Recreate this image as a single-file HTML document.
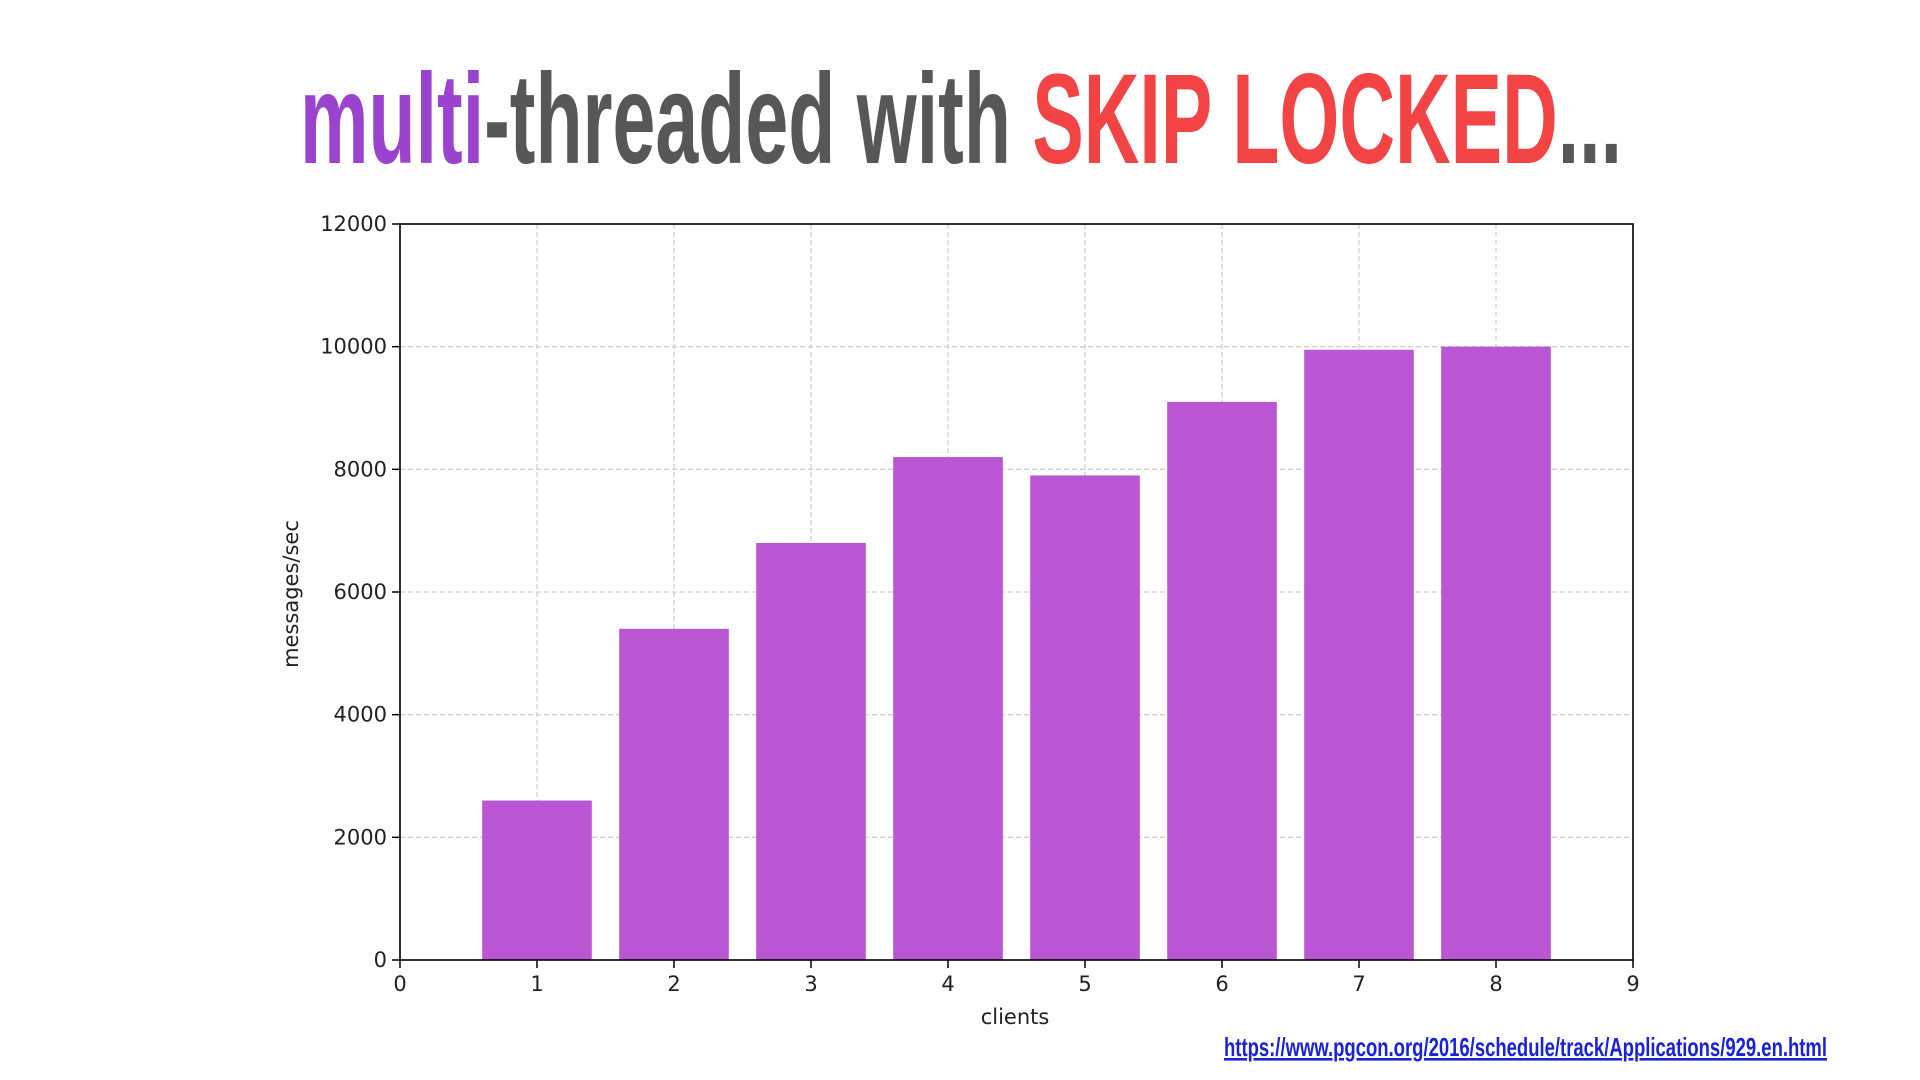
<!DOCTYPE html>
<html><head><meta charset="utf-8"><style>
html,body{margin:0;padding:0;background:#fff;width:1920px;height:1080px;overflow:hidden}
svg{position:absolute;left:0;top:0}
</style></head><body>
<svg id="s" width="1920" height="1080" xmlns="http://www.w3.org/2000/svg" font-family="DejaVu Sans, sans-serif">
<text x="300" y="163" font-family="Liberation Sans, sans-serif" font-weight="bold" font-size="128" textLength="1322" lengthAdjust="spacingAndGlyphs"><tspan fill="#9b42cf">multi</tspan><tspan fill="#575757">-threaded with </tspan><tspan fill="#f24444">SKIP LOCKED</tspan><tspan fill="#575757">...</tspan></text>
<g id="grid"></g>
<g id="bars"></g>
<g id="axes"></g>
<text x="1015" y="1024" font-size="21" text-anchor="middle" fill="#222">clients</text>
<text x="0" y="0" font-size="21" text-anchor="middle" fill="#222" transform="translate(298,594) rotate(-90)">messages/sec</text>
<a><text x="1224" y="1056" font-family="Liberation Sans, sans-serif" font-weight="bold" font-size="26" fill="#1a22d8" text-decoration="underline" textLength="603" lengthAdjust="spacingAndGlyphs">https://www.pgcon.org/2016/schedule/track/Applications/929.en.html</text></a>
</svg>
<script>
const categories=[1,2,3,4,5,6,7,8];
const values=[2600,5400,6800,8200,7900,9100,9950,10000];
const yTicks=[0,2000,4000,6000,8000,10000,12000];
const xTicks=[0,1,2,3,4,5,6,7,8,9];
const L=400,R=1633,T=224,B=960;
const xs=v=>L+(v-0)/(9-0)*(R-L);
const ys=v=>B-(v/12000)*(B-T);
const NS='http://www.w3.org/2000/svg';
function mk(p,tag,a){const e=document.createElementNS(NS,tag);for(const k in a)e.setAttribute(k,a[k]);p.appendChild(e);return e;}
const grid=document.getElementById('grid'),bars=document.getElementById('bars'),axes=document.getElementById('axes');
xTicks.forEach(t=>{
 const g=mk(grid,'line',{x1:xs(t),x2:xs(t),y1:T,y2:B,stroke:'#cfcfcf','stroke-width':1.3,'stroke-dasharray':'5,3'});
 
 
 const tk=mk(axes,'line',{x1:xs(t),x2:xs(t),y1:B,y2:B+8,stroke:'#000','stroke-width':1.5});
 
 
 const tl=mk(axes,'text',{x:xs(t),y:B+31,'font-size':21,'text-anchor':'middle',fill:'#222'});tl.textContent=t;
 
 
});
yTicks.forEach(t=>{
 const g=mk(grid,'line',{x1:L,x2:R,y1:ys(t),y2:ys(t),stroke:'#cfcfcf','stroke-width':1.3,'stroke-dasharray':'5,3'});
 
 
 const tk=mk(axes,'line',{x1:L-8,x2:L,y1:ys(t),y2:ys(t),stroke:'#000','stroke-width':1.5});
 
 
 const tl=mk(axes,'text',{x:L-13,y:ys(t)+7,'font-size':21,'text-anchor':'end',fill:'#222'});tl.textContent=t;
 
 
});
categories.forEach((c,i)=>{
 const w=xs(0.8)-xs(0);
 const b=mk(bars,'rect',{x:xs(c)-w/2,y:ys(values[i]),width:w,height:ys(0)-ys(values[i]),fill:'#ba55d3'});
 
 
});
const fr=mk(axes,'rect',{x:L,y:T,width:R-L,height:B-T,fill:'none',stroke:'#000','stroke-width':1.6});


</script>
</body></html>
